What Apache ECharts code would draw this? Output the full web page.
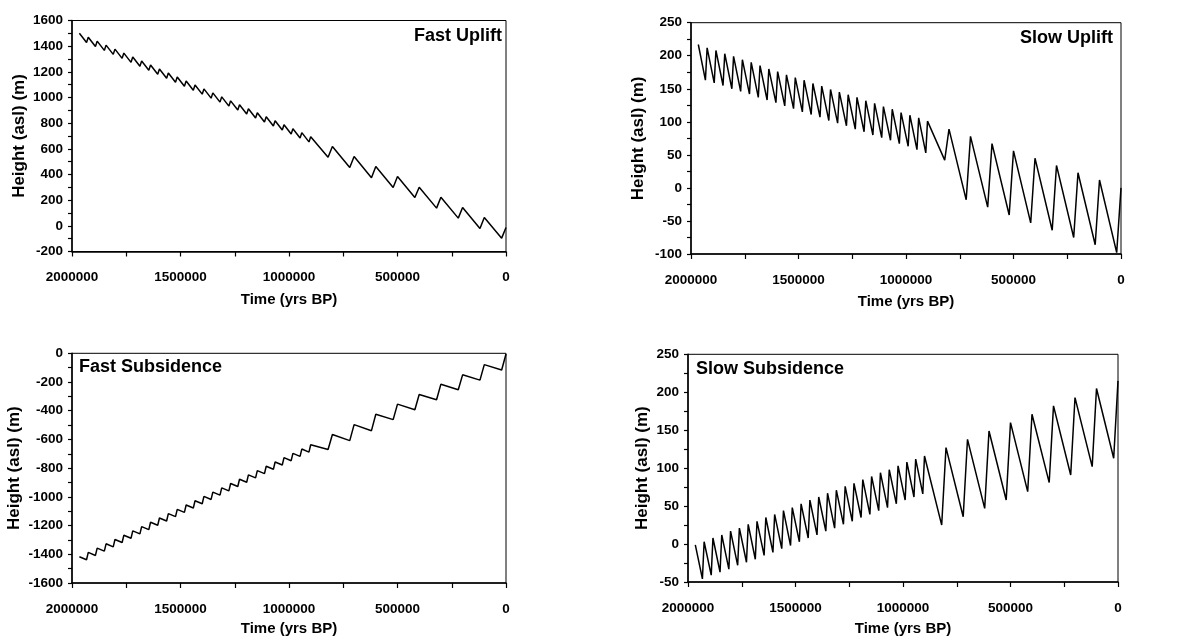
<!DOCTYPE html>
<html>
<head>
<meta charset="utf-8">
<script src="https://cdn.jsdelivr.net/npm/echarts@6/dist/echarts.min.js"></script>
<style>
html,body{margin:0;padding:0;background:#fff;}
#chart{width:1201px;height:637px;}
</style>
</head>
<body>
<div id="chart"></div>
<script>
// Time of each vertex (years BP)
const timeBP = [1966000,1933000,1925000,1892000,1884000,1851000,1843000,1810000,1802000,1769000,1761000,1728000,1720000,1687000,1679000,1646000,1638000,1605000,1597000,1564000,1556000,1523000,1515000,1482000,1474000,1441000,1433000,1400000,1392000,1359000,1351000,1318000,1310000,1277000,1269000,1236000,1228000,1195000,1187000,1154000,1146000,1113000,1105000,1072000,1064000,1031000,1023000,990000,982000,949000,941000,908000,900000,820000,800000,720000,700000,620000,600000,520000,500000,420000,400000,320000,300000,220000,200000,120000,100000,20000,0];

const fastUplift = [1501,1429,1470,1398,1439,1367,1408,1336,1377,1305,1346,1274,1315,1243,1284,1212,1253,1181,1222,1150,1191,1119,1160,1088,1129,1057,1098,1026,1067,995,1036,964,1005,933,974,902,943,871,912,840,881,809,850,778,819,747,788,716,757,685,726,654,695,535,618,454,540,374,462,299,384,221,301,138,223,60,143,-21,65,-96,-13];

const slowUplift = [217,163,212,159,208,155,203,150,199,146,194,142,190,137,185,133,180,129,176,124,171,120,167,115,163,111,158,107,154,102,149,98,145,94,141,89,137,85,132,80,128,76,123,72,119,67,114,63,110,58,106,53,101,42,89,-18,78,-29,67,-41,56,-53,45,-64,34,-75,23,-86,12,-98,0];

const fastSubsidence = [-1417,-1438,-1387,-1408,-1357,-1378,-1327,-1348,-1297,-1318,-1267,-1288,-1237,-1258,-1207,-1228,-1177,-1198,-1147,-1168,-1117,-1138,-1087,-1108,-1057,-1078,-1027,-1048,-997,-1018,-967,-988,-937,-958,-907,-928,-877,-898,-847,-868,-817,-838,-787,-808,-757,-778,-727,-748,-697,-718,-667,-688,-637,-670,-566,-608,-497,-539,-425,-462,-354,-393,-287,-324,-215,-254,-150,-187,-79,-116,-5];

const slowSubsidence = [-1,-46,3,-41,8,-37,12,-33,17,-28,21,-24,26,-20,30,-15,35,-11,39,-6,44,-2,48,3,53,8,58,12,62,17,67,21,71,26,76,30,80,35,85,39,89,44,94,48,98,53,103,58,108,62,112,66,116,25,127,36,138,47,149,58,160,69,171,81,182,91,193,102,205,113,215];

const panelTitles = ['Fast Uplift','Slow Uplift','Fast Subsidence','Slow Subsidence'];
const yRanges = [[-200,1600,200],[-100,250,50],[-1600,0,200],[-50,250,50]];
const xTitle = 'Time (yrs BP)';
const yTitle = 'Height (asl) (m)';

const FONT = '"Liberation Sans", Arial, sans-serif';
const grids = [
  {left:72, top:20.5, width:434, height:231},
  {left:691, top:22.7, width:430, height:231.3},
  {left:72, top:353.3, width:434, height:230.7},
  {left:688, top:354.3, width:430, height:231.4}
];
const yNameGaps = [44, 44, 49, 37];
const xNameGaps = [41, 40, 38, 39];
const seriesData = [fastUplift, slowUplift, fastSubsidence, slowSubsidence];

const option = {
  backgroundColor:'#fff',
  animation:false,
  title: [
    {text:panelTitles[0], right:699, top:27, padding:0, textStyle:{fontFamily:FONT,fontWeight:'bold',fontSize:18,color:'#000'}},
    {text:panelTitles[1], right:88, top:29, padding:0, textStyle:{fontFamily:FONT,fontWeight:'bold',fontSize:18,color:'#000'}},
    {text:panelTitles[2], left:79, top:358, padding:0, textStyle:{fontFamily:FONT,fontWeight:'bold',fontSize:18,color:'#000'}},
    {text:panelTitles[3], left:696, top:360, padding:0, textStyle:{fontFamily:FONT,fontWeight:'bold',fontSize:18,color:'#000'}}
  ],
  grid: grids.map(g => Object.assign({show:true, borderColor:'#000', borderWidth:1, backgroundColor:'#fff'}, g)),
  xAxis: grids.map((g,i) => ({
    gridIndex:i, type:'value', inverse:true, min:0, max:2000000, interval:500000,
    name:xTitle, nameLocation:'middle', nameGap:xNameGaps[i],
    nameTextStyle:{fontFamily:FONT, fontWeight:'bold', fontSize:15, color:'#000'},
    axisLine:{show:true, onZero:false, lineStyle:{color:'#000', width:1.5}},
    axisTick:{show:true, inside:false, length:5, lineStyle:{color:'#000', width:1.2}},
    minorTick:{show:true, splitNumber:2, length:5, lineStyle:{color:'#000', width:1.2}},
    axisLabel:{margin:19, fontFamily:FONT, fontWeight:'bold', fontSize:13.5, color:'#000', formatter:v=>String(v)},
    splitLine:{show:false}
  })),
  yAxis: grids.map((g,i) => ({
    gridIndex:i, type:'value', min:yRanges[i][0], max:yRanges[i][1], interval:yRanges[i][2],
    name:yTitle, nameLocation:'middle', nameGap:yNameGaps[i], nameRotate:90,
    nameTextStyle:{fontFamily:FONT, fontWeight:'bold', fontSize:17, color:'#000'},
    axisLine:{show:true, onZero:false, lineStyle:{color:'#000', width:1.5}},
    axisTick:{show:true, inside:false, length:4, lineStyle:{color:'#000', width:1.2}},
    minorTick:{show:true, splitNumber:2, length:4, lineStyle:{color:'#000', width:1.2}},
    axisLabel:{margin:9, fontFamily:FONT, fontWeight:'bold', fontSize:13.5, color:'#000', formatter:v=>String(v)},
    splitLine:{show:false}
  })),
  series: seriesData.map((arr,i) => ({
    type:'line', xAxisIndex:i, yAxisIndex:i, showSymbol:false, symbol:'none',
    lineStyle:{color:'#000', width:1.5}, clip:false,
    data: timeBP.map((t,k) => [t, arr[k]])
  }))
};
const chart = echarts.init(document.getElementById('chart'), null, {renderer:'canvas'});
chart.setOption(option);
</script>
</body>
</html>
